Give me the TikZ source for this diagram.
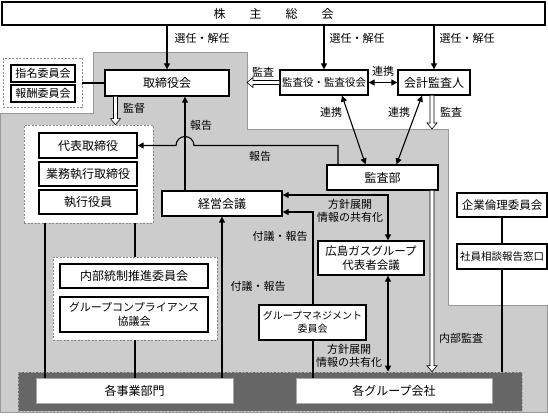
\documentclass[tikz,border=0pt]{standalone}
\usepackage{fontspec}
\setmainfont{Noto Sans CJK JP}
\usetikzlibrary{arrows.meta,calc}
\definecolor{regiongray}{HTML}{CCCCCC}
\definecolor{regionedge}{HTML}{999999}
\definecolor{bandgray}{HTML}{666666}
\definecolor{bandedge}{HTML}{A8A8A8}
\definecolor{grpedge}{HTML}{888888}
\newcommand\hollowV[2]{%
  \filldraw[hollow] ($(#1)+(-2,0)$) -- ($(#2)+(-2,-6)$) -- ($(#2)+(-5,-6)$) -- (#2)
    -- ($(#2)+(5,-6)$) -- ($(#2)+(2,-6)$) -- ($(#1)+(2,0)$);}
\newcommand\hollowL[2]{%
  \filldraw[hollow] ($(#1)+(0,-2)$) -- ($(#2)+(6,-2)$) -- ($(#2)+(6,-5)$) -- (#2)
    -- ($(#2)+(6,5)$) -- ($(#2)+(6,2)$) -- ($(#1)+(0,2)$);}
\begin{document}
\begin{tikzpicture}[x=1pt,y=-1pt,
  every node/.style={font=\fontsize{12}{14}\selectfont, inner sep=0pt, align=center},
  box/.style={draw=black, line width=1.3pt, fill=white},
  thickbox/.style={draw=black, line width=1.8pt, fill=white},
  plainbox/.style={draw=bandedge, line width=0.5pt, fill=white},
  grp/.style={draw=grpedge, fill=white, line width=0.7pt, dash pattern=on 2pt off 1.5pt},
  conn/.style={line width=1.1pt},
  arr/.style={conn, -{Triangle[length=6pt,width=6pt]}},
  arrboth/.style={conn, {Triangle[length=6pt,width=6pt]}-{Triangle[length=6pt,width=6pt]}},
  hollow/.style={draw=black, line width=0.6pt, fill=white},
  lbl/.style={font=\fontsize{11}{12.5}\selectfont}]
\useasboundingbox (0,0) rectangle (548,416);
% gray region
\filldraw[fill=regiongray, draw=regionedge, line width=0.8pt]
  (0.5,113) -- (93,113) -- (93,52) -- (247,52) -- (247,129) -- (448,129)
  -- (448,305) -- (547.5,305) -- (547.5,412) -- (0.5,412) -- cycle;
% bottom band
\node[draw=bandedge, fill=bandgray, dash pattern=on 2pt off 1.5pt, line width=0.6pt,
  minimum width=504pt, minimum height=39pt] (band) at (270,391.5) {};
% group frames
\node[grp, minimum width=79pt, minimum height=49pt] (mGrp) at (42.5,82.5) {};
\node[grp, minimum width=129pt, minimum height=98pt] (dGrp) at (88.5,174) {};
\node[grp, minimum width=164pt, minimum height=83pt] (nGrp) at (135,298.5) {};
% boxes
\node[box, minimum width=543pt, minimum height=23pt] (kabu) at (273.5,13.5)
  {株\hspace{24pt}主\hspace{24pt}総\hspace{24pt}会};
\node[box, minimum width=124pt, minimum height=26pt] (tor) at (167,83) {取締役会};
\node[thickbox, minimum width=64pt, minimum height=17pt, font=\fontsize{11}{13}\selectfont] (shimei) at (43,73.5) {指名委員会};
\node[thickbox, minimum width=64pt, minimum height=17pt, font=\fontsize{11}{13}\selectfont] (hoshu) at (43,93.5) {報酬委員会};
\node[box, minimum width=88pt, minimum height=25pt, font=\fontsize{10.5}{12}\selectfont] (kansayaku) at (324,82.5) {監査役・監査役会};
\node[box, minimum width=72pt, minimum height=25pt] (kaikei) at (434,82.5) {会計監査人};
\node[box, minimum width=111pt, minimum height=25pt] (kansabu) at (382.5,177.5) {監査部};
\node[box, minimum width=98pt, minimum height=25pt] (daihyo) at (88,145.5) {代表取締役};
\node[box, minimum width=98pt, minimum height=24pt] (gyomu) at (88,174) {業務執行取締役};
\node[box, minimum width=98pt, minimum height=24pt] (shikko) at (88,202) {執行役員};
\node[box, minimum width=120pt, minimum height=25pt] (keiei) at (222,203.5) {経営会議};
\node[box, minimum width=106pt, minimum height=34pt, font=\fontsize{11.5}{14}\selectfont] (hiroshima) at (371,258) {広島ガスグループ\\代表者会議};
\node[box, minimum width=107pt, minimum height=35pt, font=\fontsize{10}{13}\selectfont] (gm) at (312.5,322.5) {グループマネジメント\\委員会};
\node[box, minimum width=148pt, minimum height=24pt] (naibu) at (134,276) {内部統制推進委員会};
\node[box, minimum width=148pt, minimum height=35pt, font=\fontsize{11}{14}\selectfont] (gcomp) at (134,314.5) {グループコンプライアンス\\協議会};
\node[box, minimum width=90pt, minimum height=24pt, font=\fontsize{11.5}{13}\selectfont] (kigyo) at (502,205) {企業倫理委員会};
\node[box, minimum width=90pt, minimum height=25pt, font=\fontsize{10.5}{12}\selectfont] (shain) at (502,256.5) {社員相談報告窓口};
\node[plainbox, minimum width=197pt, minimum height=25pt] (jigyo) at (134.5,390.5) {各事業部門};
\node[plainbox, minimum width=196pt, minimum height=25pt] (gkaisha) at (394,390.5) {各グループ会社};
% connectors from the general meeting
\draw[arr] (kabu.south -| tor.north) -- (tor.north);
\draw[arr] (kabu.south -| kansayaku.north) -- (kansayaku.north);
\draw[arr] (kabu.south -| kaikei.north) -- (kaikei.north);
\node[lbl] (l1) at (202,38) {選任・解任};
\node[lbl] (l2) at (357,38) {選任・解任};
\node[lbl] (l3) at (467,38) {選任・解任};
% committees to board
\draw[conn] (mGrp.east |- tor.west) -- (tor.west);
% audit links
\draw[arrboth] (kansayaku.east) -- (kaikei.west);
\node[lbl] (l4) at (383,71) {連携};
\draw[arrboth] ($(kansayaku.south)+(18,0)$) -- ($(kansabu.north)+(-17,0)$);
\draw[arrboth] ($(kaikei.south)+(-12,0)$) -- ($(kansabu.north)+(14,0)$);
\node[lbl] (l5) at (331,112) {連携};
\node[lbl] (l6) at (399,112) {連携};
% hollow arrows
\coordinate (hx1) at (115.5,0);
\coordinate (h1s) at (tor.south -| hx1);
\coordinate (h1e) at (dGrp.north -| hx1);
\hollowV{h1s}{h1e}
\node[lbl] (l7) at (134,108) {監督};
\coordinate (h2e) at (247,82.5);
\hollowL{kansayaku.west}{h2e}
\node[lbl] (l8) at (263,72) {監査};
\coordinate (hx3) at (432,0);
\coordinate (h3s) at (kaikei.south -| hx3);
\coordinate (h3e) at (432,129);
\hollowV{h3s}{h3e}
\node[lbl] (l9) at (451,112) {監査};
\coordinate (h4s) at (kansabu.south -| hx3);
\coordinate (h4e) at (band.north -| hx3);
\hollowV{h4s}{h4e}
\node[lbl] (l10) at (461,338) {内部監査};
% reports
\coordinate (vx) at (185,0);
\draw[arr] (keiei.north -| vx) -- (tor.south -| vx);
\node[lbl] (l11) at (201,125) {報告};
\coordinate (bx) at (338,145.5);
\draw[arr] (kansabu.north -| bx) -- (bx) -- (194,145.5)
  arc[start angle=0, end angle=-180, radius=9] -- (daihyo.east);
\node[lbl] (l12) at (260,156) {報告};
% management meeting links
\coordinate (c1) at (388,195);
\coordinate (c2) at (313,212);
\draw[arrboth] (keiei.east |- c1) -- (c1) -- (hiroshima.north -| c1);
\node[lbl] (l13) at (350,211) {方針展開\\情報の共有化};
\draw[arr] (gm.north -| c2) -- (c2) -- (keiei.east |- c2);
\node[lbl] (l14) at (280,236) {付議・報告};
\draw[conn] (gm.south -| c2) -- (gkaisha.north -| c2);
\draw[arrboth] (hiroshima.south -| c1) -- (band.north -| c1);
\node[lbl] (l15) at (349,356) {方針展開\\情報の共有化};
\draw[arr] (jigyo.north -| keiei.south) -- (keiei.south);
\node[lbl] (l16) at (258,286) {付議・報告};
% executive group lines
\coordinate (ex) at (45,0);
\draw[conn] (dGrp.south -| ex) -- (jigyo.north -| ex);
\draw[conn] (dGrp.south -| nGrp.north) -- (nGrp.north);
\draw[conn] (nGrp.south) -- (jigyo.north -| nGrp.south);
% ethics
\draw[conn] (kigyo.south) -- (shain.north);
\draw[conn] (shain.south) -- (band.north -| shain.south);
\end{tikzpicture}
\end{document}
